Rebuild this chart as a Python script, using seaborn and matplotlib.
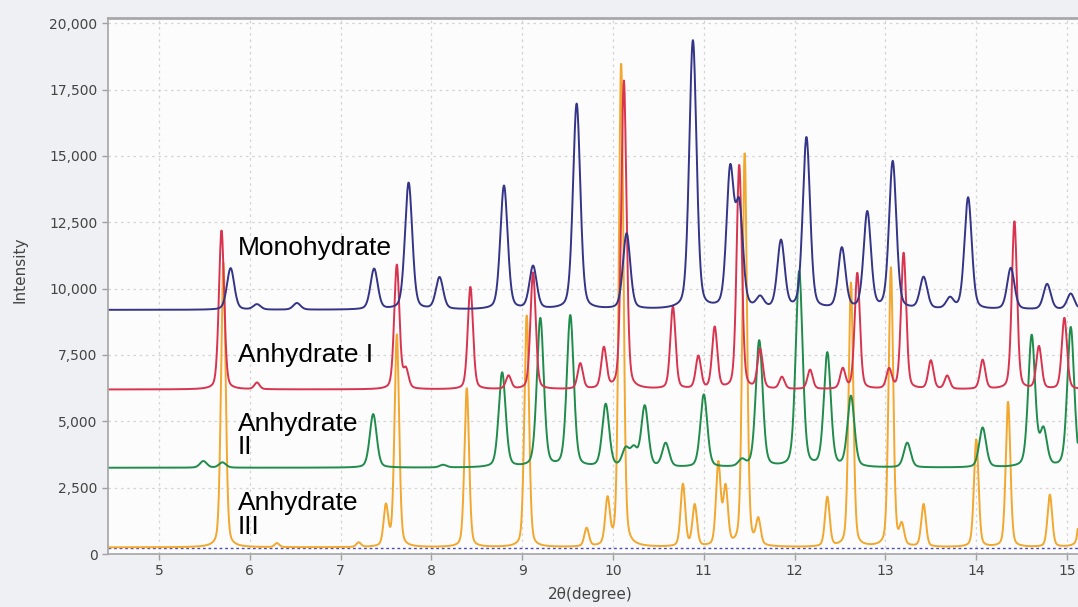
import numpy as np
import pandas as pd
import seaborn as sns
import matplotlib.pyplot as plt

# peak tables: 2theta position, total intensity at peak top
mono_base = 9200
mono_pos = [5.79, 6.08, 6.52, 7.37, 7.75, 8.09, 8.80, 9.12, 9.60, 10.15, 10.88, 11.29, 11.39,
            11.62, 11.85, 12.13, 12.52, 12.80, 13.08, 13.42, 13.71, 13.91, 14.38, 14.78, 15.04]
mono_top = [10770, 9400, 9450, 10730, 13980, 10400, 13860, 10810, 16950, 12050, 19320, 14300, 12900,
            9600, 11750, 15660, 11480, 12840, 14760, 10390, 9600, 13420, 10760, 10160, 9800]

anh1_base = 6200
anh1_pos = [5.69, 6.08, 7.62, 7.72, 8.43, 8.85, 9.12, 9.64, 9.90, 10.12, 10.66, 10.94, 11.12, 11.39,
            11.62, 11.86, 12.17, 12.53, 12.69, 13.04, 13.20, 13.50, 13.68, 14.07, 14.42, 14.69, 14.97]
anh1_top = [12200, 6450, 10880, 6900, 10060, 6700, 10600, 7160, 7720, 17820, 9300, 7420, 8510, 14650,
            7680, 6650, 6930, 6950, 10580, 6930, 11330, 7270, 6700, 7300, 12520, 7800, 8890]

anh2_base = 3250
anh2_pos = [5.49, 5.70, 7.36, 8.13, 8.78, 9.20, 9.53, 9.92, 10.14, 10.23, 10.35, 10.58, 11.00, 11.42,
            11.61, 12.05, 12.36, 12.62, 13.24, 14.07, 14.61, 14.74, 15.04]
anh2_top = [3500, 3450, 5270, 3350, 6820, 8850, 8960, 5610, 3900, 3900, 5540, 4140, 5990, 3500,
            8020, 10620, 7530, 5910, 4180, 4750, 8200, 4600, 8530]

anh3_base = 250
anh3_pos = [5.71, 6.30, 7.20, 7.50, 7.62, 8.39, 9.05, 9.71, 9.94, 10.09, 10.77, 10.90, 11.16, 11.24,
            11.45, 11.60, 12.36, 12.62, 13.06, 13.18, 13.42, 14.00, 14.35, 14.81, 15.17]
anh3_top = [11000, 400, 420, 1760, 8240, 6250, 9000, 940, 1960, 18500, 2600, 1810, 3350, 2410,
            15100, 1200, 2110, 10200, 10770, 1000, 1850, 4300, 5730, 2220, 5000]

labels = ["Monohydrate", "Anhydrate I", "Anhydrate\nII", "Anhydrate\nIII"]
label_y = [11525, 7495, 4480, 1470]


def pattern(x, base, pos, top, w, eta=0.3):
    y = np.full_like(x, float(base))
    for p, h in zip(pos, top):
        d = (x - p) / w
        y += (h - base) * (eta / (1 + 4 * d ** 2) + (1 - eta) * np.exp(-4 * np.log(2) * d ** 2))
    return y


x = np.arange(4.44, 15.12, 0.004)
df = pd.concat([
    pd.DataFrame({"2theta": x, "I": pattern(x, anh3_base, anh3_pos, anh3_top, 0.06), "form": "Anhydrate III"}),
    pd.DataFrame({"2theta": x, "I": pattern(x, anh2_base, anh2_pos, anh2_top, 0.09), "form": "Anhydrate II"}),
    pd.DataFrame({"2theta": x, "I": pattern(x, anh1_base, anh1_pos, anh1_top, 0.068), "form": "Anhydrate I"}),
    pd.DataFrame({"2theta": x, "I": pattern(x, mono_base, mono_pos, mono_top, 0.095), "form": "Monohydrate"}),
])
palette = {"Anhydrate III": "#f2a72e", "Anhydrate II": "#1f8c4c",
           "Anhydrate I": "#d8344f", "Monohydrate": "#343488"}

sns.set_theme(style="whitegrid")
plt.rcParams['font.family'] = ['DejaVu Sans']

fig = plt.figure(figsize=(10.78, 6.07), dpi=100, facecolor="#eef0f3")
ax = fig.add_axes([108 / 1078, 53 / 607, 970 / 1078, 536 / 607])
ax.set_facecolor("#fcfcfc")

ax.axhline(220, color="#4b4bc0", lw=1, ls=(0, (2, 2)), zorder=1)
sns.lineplot(data=df, x="2theta", y="I", hue="form", palette=palette, estimator=None,
             sort=False, lw=1.4, legend=False, ax=ax)

for t, yy in zip(labels, label_y):
    ax.text(5.87, yy, t, fontsize=19, family="Liberation Sans", va="center", ha="left",
            linespacing=0.95, color="black")

ax.set_xlim(4.44, 15.12)
ax.set_ylim(0, 20200)
ax.set_xticks(range(5, 16))
ax.set_yticks(np.arange(0, 20001, 2500))
ax.set_yticklabels([f"{v:,}" for v in range(0, 20001, 2500)])
ax.grid(True, color="#d4d4d4", ls=(0, (2, 3)), lw=0.9)
for s in ["left", "bottom", "top"]:
    ax.spines[s].set_color("#a8a8a8")
ax.spines["top"].set_linewidth(2)
ax.spines["right"].set_visible(False)
ax.tick_params(axis="both", colors="#a0a0a0", labelcolor="#444444", labelsize=10,
               length=4, width=1, direction="out", left=True, bottom=True)
ax.set_xlabel("2θ(degree)", fontsize=11, color="#444444")
ax.set_ylabel("Intensity", fontsize=11, color="#444444")
ax.xaxis.set_label_coords(0.497, -0.062)
ax.yaxis.set_label_coords(-0.083, 0.53)

fig.savefig("out.png", dpi=100, facecolor=fig.get_facecolor())
